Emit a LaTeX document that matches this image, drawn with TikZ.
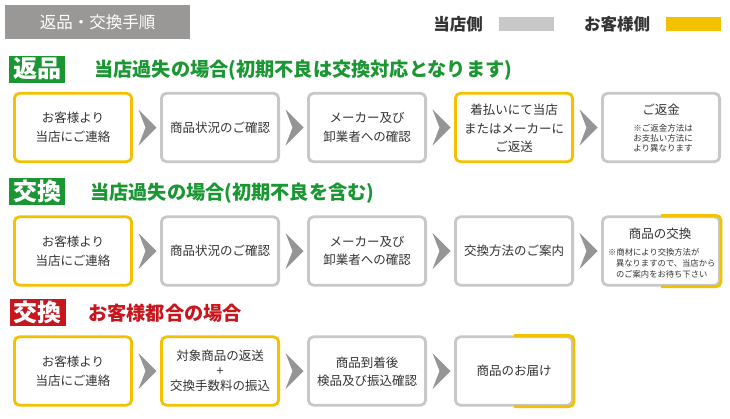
\documentclass[tikz,border=0pt]{standalone}
\usepackage{fontspec}
\setmainfont{Noto Sans CJK JP}
\usetikzlibrary{calc}
\definecolor{hdrgray}{RGB}{154,151,151}
\definecolor{boxgray}{RGB}{200,200,200}
\definecolor{custyellow}{RGB}{242,193,0}
\definecolor{chevgray}{RGB}{150,148,148}
\definecolor{jgreen}{RGB}{26,150,50}
\definecolor{jred}{RGB}{200,22,30}
\definecolor{txt}{RGB}{51,51,51}
\newcommand\mychev[2]{\fill[chev] let \p1=($(#1.east)!0.5!(#2.west)$) in (\x1-8pt,\y1-18pt) -- (\x1+10pt,\y1) -- (\x1-8pt,\y1+18pt) -- (\x1-1pt,\y1) -- cycle;}
\begin{document}
\begin{tikzpicture}[x=1pt,y=-1pt,
 stepbox/.style={draw=boxgray, line width=2.8pt, rounded corners=5pt, minimum width=117.2pt, minimum height=68.4pt, inner sep=0pt, fill=white},
 custbox/.style={stepbox, draw=custyellow},
 halfline/.style={draw=custyellow, line width=2.8pt, rounded corners=5pt},
 boxtxt/.style={text=txt, font=\fontsize{12.5}{18.5}\selectfont, align=center, inner sep=0pt},
 smalltxt/.style={text=txt, font=\fontsize{8.5}{10.2}\selectfont, align=center, inner sep=0pt},
 tag/.style={text=white, font=\fontsize{24}{24}\selectfont\bfseries, minimum width=56pt, minimum height=27pt, inner sep=0pt},
 rowtitle/.style={font=\fontsize{19.2}{19.2}\selectfont\bfseries, anchor=west, inner sep=0pt},
 legendtxt/.style={text=txt, font=\fontsize{16.5}{16.5}\selectfont\bfseries, inner sep=0pt},
 chev/.style={fill=chevgray}
]
\useasboundingbox[fill=white] (0,0) rectangle (730,418);

% header
\node[fill=hdrgray, minimum width=185pt, minimum height=34pt, inner sep=0pt, text=white, font=\fontsize{16.5}{16.5}\selectfont] (hdr) at (97.5,22) {返品・交換手順};
\node[legendtxt] (lg1) at (458,24) {当店側};
\fill[boxgray] (499,17) rectangle (554,31);
\node[legendtxt] (lg2) at (617,24) {お客様側};
\fill[custyellow] (666,17) rectangle (721,31);

% ---------- row 1 ----------
\node[tag, fill=jgreen] (t1) at (37,69) {返品};
\node[rowtitle, text=jgreen] (h1) at (94,70) {当店過失の場合(初期不良は交換対応となります)};
\node[custbox] (a1) at (73,127.5) {};
\node[stepbox] (a2) at (220,127.5) {};
\node[stepbox] (a3) at (367,127.5) {};
\node[custbox] (a4) at (514,127.5) {};
\node[stepbox] (a5) at (661,127.5) {};
\node[boxtxt] (a1t) at (a1) {お客様より\\当店にご連絡};
\node[boxtxt] (a2t) at (a2) {商品状況のご確認};
\node[boxtxt] (a3t) at (a3) {メーカー及び\\卸業者への確認};
\node[boxtxt] (a4t) at (514,128.5) {着払いにて当店\\またはメーカーに\\ご返送};
\node[boxtxt] (a5t) at (661,110) {ご返金};
\node[smalltxt] (a5s) at (663,138.5) {※ご返金方法は\\お支払い方法に\\より異なります};
\mychev{a1}{a2}
\mychev{a2}{a3}
\mychev{a3}{a4}
\mychev{a4}{a5}

% ---------- row 2 ----------
\node[tag, fill=jgreen] (t2) at (37,191) {交換};
\node[rowtitle, text=jgreen] (h2) at (90,193) {当店過失の場合(初期不良を含む)};
\node[custbox] (b1) at (73,251) {};
\node[stepbox] (b2) at (220,251) {};
\node[stepbox] (b3) at (367,251) {};
\node[stepbox] (b4) at (514,251) {};
\node[stepbox] (b5) at (661,251) {};
\draw[halfline] (b5.north) -- (b5.north east) -- (b5.south east) -- (b5.south);
\node[boxtxt] (b1t) at (b1) {お客様より\\当店にご連絡};
\node[boxtxt] (b2t) at (b2) {商品状況のご確認};
\node[boxtxt] (b3t) at (b3) {メーカー及び\\卸業者への確認};
\node[boxtxt] (b4t) at (b4) {交換方法のご案内};
\node[boxtxt] (b5t) at (660,234) {商品の交換};
\node[smalltxt, align=left, anchor=west, font=\fontsize{8.3}{10.8}\selectfont] (b5s) at (608,263.5) {※商材により交換方法が\\\hspace*{0.95em}異なりますので、当店から\\\hspace*{0.95em}のご案内をお待ち下さい};
\mychev{b1}{b2}
\mychev{b2}{b3}
\mychev{b3}{b4}
\mychev{b4}{b5}

% ---------- row 3 ----------
\node[tag, fill=jred] (t3) at (37.5,312.5) {交換};
\node[rowtitle, text=jred] (h3) at (88,313) {お客様都合の場合};
\node[custbox] (c1) at (73,371) {};
\node[custbox] (c2) at (220,371) {};
\node[stepbox] (c3) at (367,371) {};
\node[stepbox] (c4) at (514,371) {};
\draw[halfline] (c4.north) -- (c4.north east) -- (c4.south east) -- (c4.south);
\node[boxtxt] (c1t) at (c1) {お客様より\\当店にご連絡};
\node[boxtxt, font=\fontsize{12.5}{15}\selectfont] (c2t) at (c2) {対象商品の返送\\+\\交換手数料の振込};
\node[boxtxt] (c3t) at (367,372) {商品到着後\\検品及び振込確認};
\node[boxtxt] (c4t) at (c4) {商品のお届け};
\mychev{c1}{c2}
\mychev{c2}{c3}
\mychev{c3}{c4}
\end{tikzpicture}
\end{document}
